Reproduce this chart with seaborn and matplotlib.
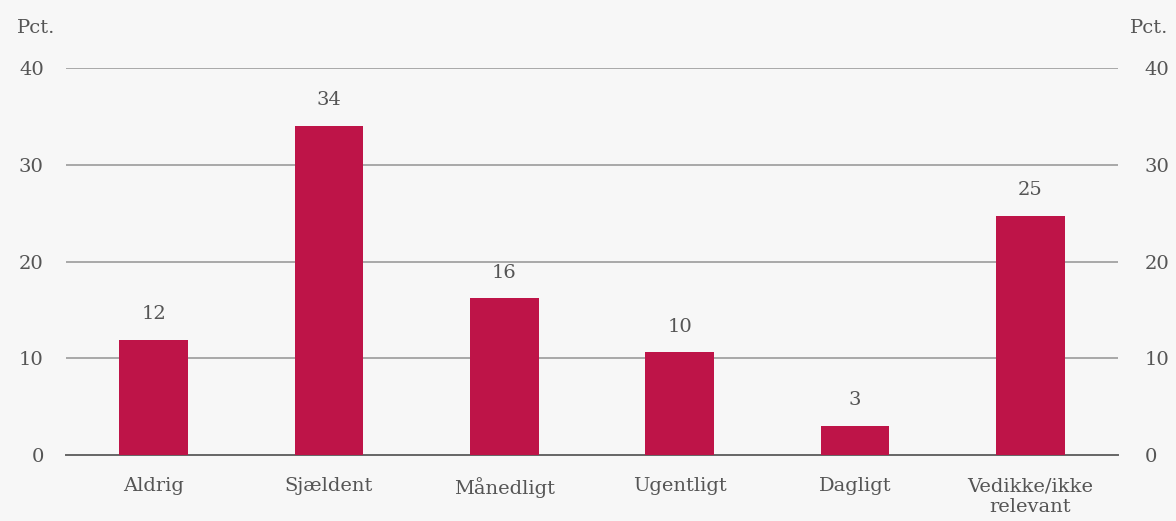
import matplotlib
matplotlib.use("Agg")
import matplotlib.pyplot as plt
import seaborn as sns
import pandas as pd
import numpy as np

categories = ["Aldrig", "Sjældent", "Månedligt", "Ugentligt", "Dagligt", "Vedikke/ikke\nrelevant"]
values = [11.9, 34.0, 16.2, 10.6, 3.0, 24.7]
labels = ["12", "34", "16", "10", "3", "25"]
yticks = [0, 10, 20, 30, 40]

bg = "#f7f7f7"
bar_color = "#be1448"
text_color = "#555555"

sns.set_theme(style="white")
plt.rcParams["font.family"] = ["DejaVu Serif"]

df = pd.DataFrame({"kategori": categories, "pct": values})

fig = plt.figure(figsize=(11.76, 5.21), dpi=100, facecolor=bg)
ax = fig.add_axes([66 / 1176, 1 - 455 / 521, (1118 - 66) / 1176, (455 - 68) / 521])
ax.set_facecolor(bg)

sns.barplot(data=df, x="kategori", y="pct", color=bar_color, width=0.39,
            saturation=1, linewidth=0, ax=ax, zorder=3)

ax.set_ylim(0, 40)
ax.set_xlim(-0.5, len(categories) - 0.5)
ax.set_yticks(yticks)
ax.set_xlabel("")
ax.set_ylabel("")

for y in yticks[1:]:
    ax.axhline(y, color="#a8a8a8", lw=1.4, zorder=1)

for s in ["left", "right", "top"]:
    ax.spines[s].set_visible(False)
ax.spines["bottom"].set_color("#666666")
ax.spines["bottom"].set_linewidth(1.4)

ax.set_xticks(np.arange(-0.5, len(categories)), minor=True)
ax.tick_params(axis="x", which="minor", length=6, width=1.4, color="#666666", direction="out")
ax.tick_params(axis="x", which="major", length=0, pad=16, labelsize=14, labelcolor=text_color)
ax.tick_params(axis="y", length=0, pad=16, labelsize=14, labelcolor=text_color)

ax2 = ax.twinx()
ax2.set_ylim(0, 40)
ax2.set_yticks(yticks)
for s in ["left", "right", "top", "bottom"]:
    ax2.spines[s].set_visible(False)
ax2.tick_params(axis="y", length=0, pad=19, labelsize=14, labelcolor=text_color)

ax.bar_label(ax.containers[0], labels=labels, padding=12, fontsize=14, color=text_color)

fig.text(17 / 1176, 1 - 28 / 521, "Pct.", fontsize=14, color=text_color, va="center", ha="left")
fig.text(1168 / 1176, 1 - 28 / 521, "Pct.", fontsize=14, color=text_color, va="center", ha="right")

fig.savefig("out.png", dpi=100, facecolor=bg)
